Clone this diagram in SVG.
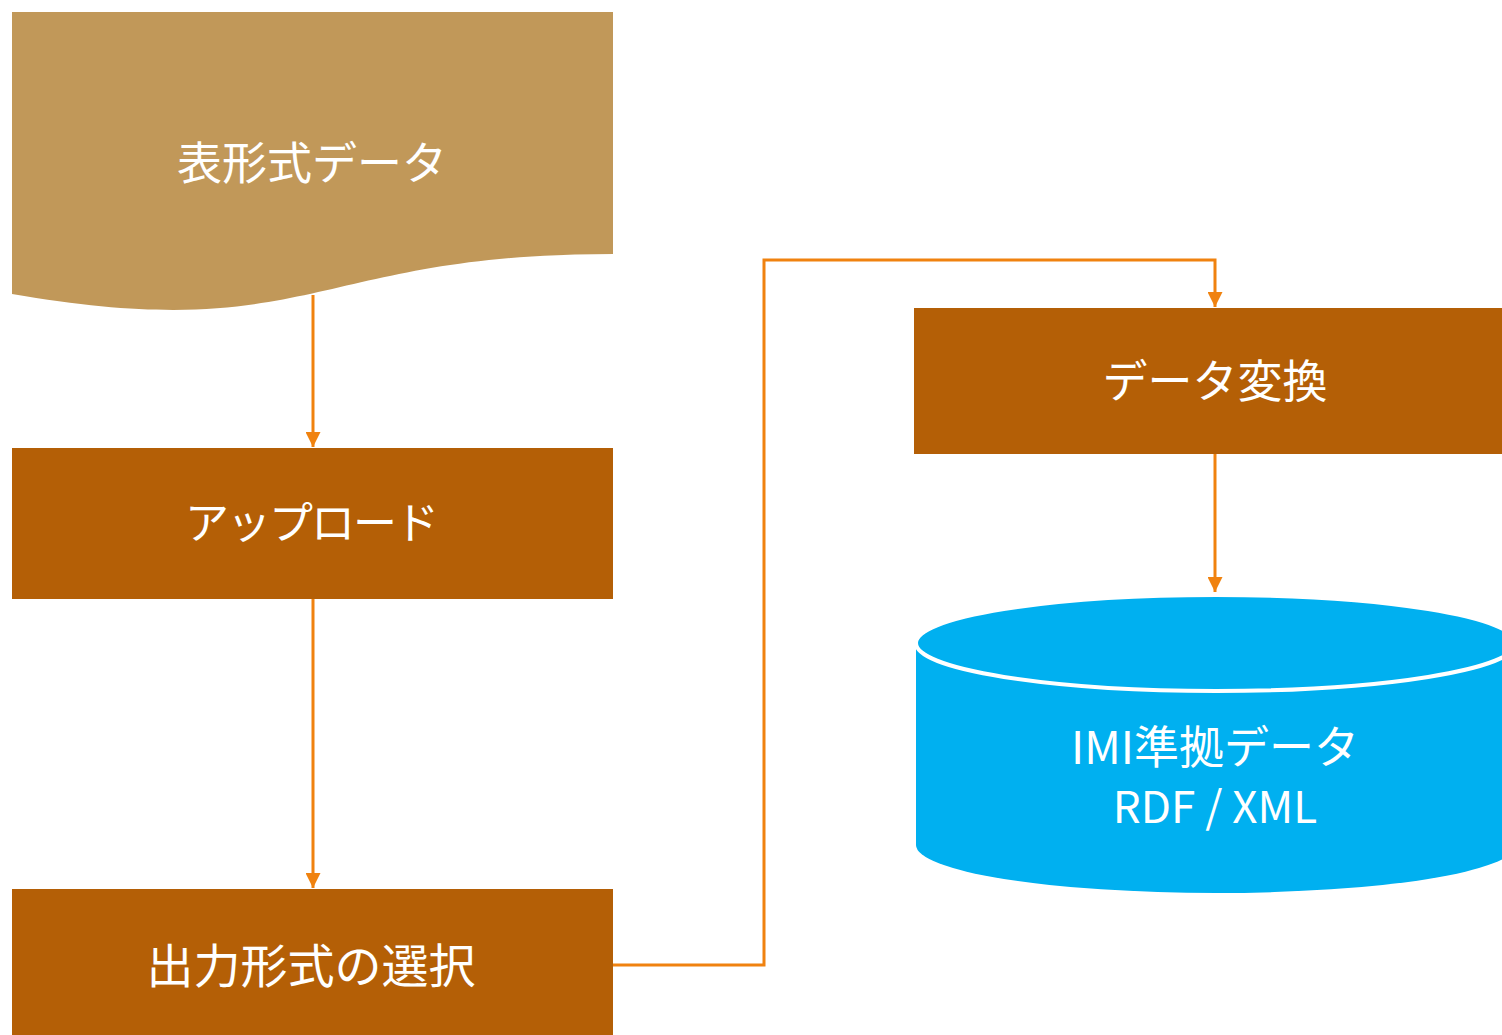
<svg xmlns="http://www.w3.org/2000/svg" width="1502" height="1035" viewBox="0 0 1502 1035">
<defs>
<style>
.lbl{font-family:"Noto Sans CJK JP","Liberation Sans",sans-serif;font-size:44px;fill:#FFFFFF;text-anchor:middle;dominant-baseline:central}
.box{fill:#B45F06}
.conn{fill:none;stroke:#F0820F;stroke-width:3}
</style>
<marker id="arr" viewBox="0 0 10 10" refX="10" refY="5" markerWidth="5" markerHeight="5" orient="auto" markerUnits="strokeWidth">
<path d="M0,0 L10,5 L0,10 Z" fill="#F0820F"/>
</marker>
</defs>
<rect width="1502" height="1035" fill="#FFFFFF"/>
<g id="connectors">
<path class="conn" d="M313,295 V447" marker-end="url(#arr)"/>
<path class="conn" d="M313,599 V888" marker-end="url(#arr)"/>
<path class="conn" d="M613,965 H764 V260 H1215 V307" marker-end="url(#arr)"/>
<path class="conn" d="M1215,454 V592" marker-end="url(#arr)"/>
</g>
<g id="node-table">
<path d="M12,12 H613 V254 C312.5,254 312.5,346 12,294 Z" fill="#C19859"/>
<text class="lbl" x="312" y="160" style="font-size:45px">表形式データ</text>
</g>
<g id="node-upload">
<rect class="box" x="12" y="448" width="601" height="151"/>
<text class="lbl" x="311" y="520" letter-spacing="-2">アップロード</text>
</g>
<g id="node-select">
<rect class="box" x="12" y="889" width="601" height="146"/>
<text class="lbl" x="311" y="962" style="font-size:47px">出力形式の選択</text>
</g>
<g id="node-convert">
<rect class="box" x="914" y="308" width="600" height="146"/>
<text class="lbl" x="1215" y="378" style="font-size:45px">データ変換</text>
</g>
<g id="node-imi">
<path d="M916,643 V845 A300,48 0 0 0 1516,845 V643 Z" fill="#00B0F0"/>
<ellipse cx="1216" cy="643" rx="300" ry="48" fill="#00B0F0" stroke="#FFFFFF" stroke-width="4"/>
<text class="lbl" x="1215" y="744" style="font-size:45px">IMI準拠データ</text>
<text class="lbl" x="1215" y="804">RDF / XML</text>
</g>
</svg>
